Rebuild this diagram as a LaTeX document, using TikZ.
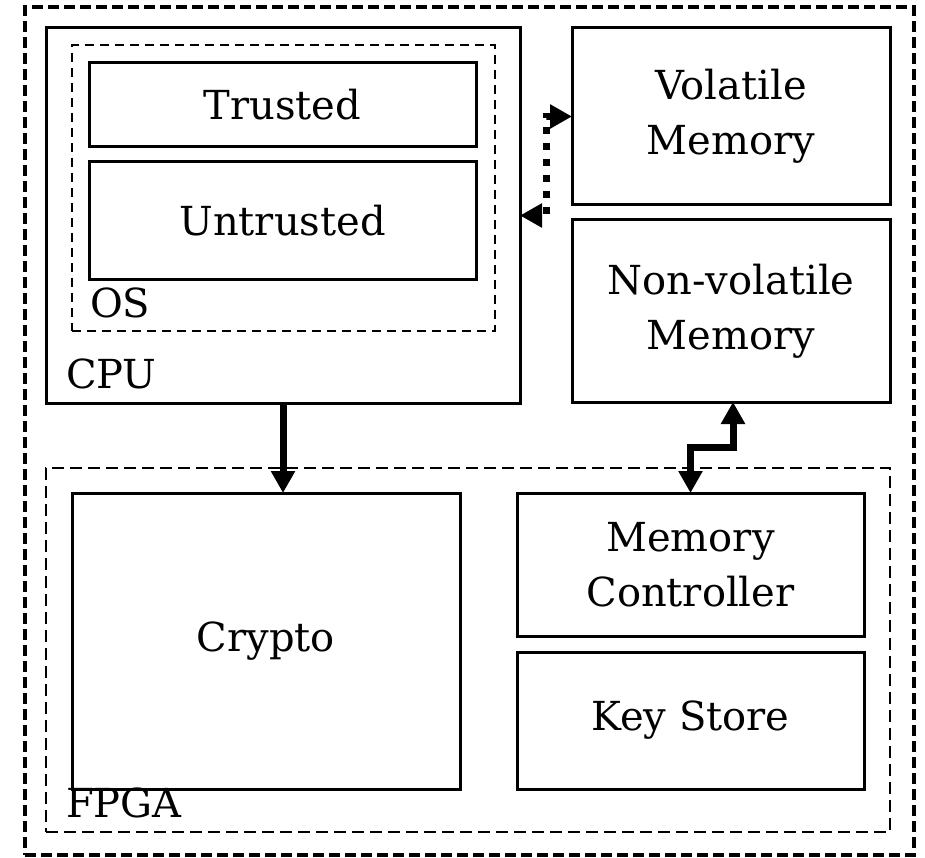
\documentclass[tikz,border=0pt]{standalone}
\usepackage{fontspec}
\setmainfont{DejaVu Serif}
\usetikzlibrary{arrows.meta,calc}
\begin{document}
\begin{tikzpicture}[x=1pt,y=-1pt,
  every node/.style={inner sep=0pt,outer sep=0pt,font=\fontsize{40}{55}\selectfont},
  solidbox/.style={draw,line width=3pt,anchor=north west,align=center},
  osbox/.style={draw,line width=2.2pt,dash pattern=on 9pt off 6pt,anchor=north west},
  fpgabox/.style={draw,line width=2.2pt,dash pattern=on 12pt off 6pt,anchor=north west},
  outerbox/.style={draw,line width=3.5pt,dash pattern=on 11pt off 5pt,anchor=north west},
  lbl/.style={anchor=base west},
  bigarrow/.style={line width=7pt,-{Triangle[length=22pt,width=23pt]}},
  biarrow/.style={line width=7pt,{Triangle[length=22pt,width=23pt]}-{Triangle[length=22pt,width=23pt]}},
  dotarrow/.style={line width=7pt,dash pattern=on 7pt off 9pt,{Triangle[length=22pt,width=23pt]}-{Triangle[length=22pt,width=23pt]}}
]
\useasboundingbox (0,0) rectangle (925,858);
\node[outerbox,minimum width=889pt,minimum height=848pt] (outer) at (25,7) {};
% CPU
\node[solidbox,minimum width=474pt,minimum height=375pt] (cpu) at (46,28) {};
\node[osbox,minimum width=423pt,minimum height=286pt] (os) at (72,45) {};
\node[solidbox,minimum width=387pt,minimum height=84pt] (trusted) at (89,63) {Trusted};
\node[solidbox,minimum width=387pt,minimum height=118pt] (untrusted) at (89,162) {Untrusted};
\node[lbl] (oslbl) at (90,317) {OS};
\node[lbl] (cpulbl) at (66,388) {CPU};
% Memories
\node[solidbox,minimum width=318pt,minimum height=177pt] (vol) at (572,28) {Volatile\\Memory};
\node[solidbox,minimum width=318pt,minimum height=182pt] (nonvol) at (572,220) {Non-volatile\\Memory};
% FPGA
\node[fpgabox,minimum width=844pt,minimum height=364pt] (fpga) at (46,468) {};
\node[solidbox,minimum width=388pt,minimum height=296pt] (crypto) at (72,493) {Crypto};
\node[solidbox,minimum width=347pt,minimum height=143pt] (memctl) at (517,493) {Memory\\Controller};
\node[solidbox,minimum width=347pt,minimum height=137pt] (keystore) at (517,652) {Key Store};
\node[lbl] (fpgalbl) at (66,817) {FPGA};
% connectors
\draw[bigarrow] (cpu.south) -- (cpu.south |- crypto.north);
\draw[biarrow] (memctl.north) -- ($(memctl.north)+(0,-46)$) -| ($(nonvol.south)+(2,0)$);
\draw[dotarrow] (vol.west) -- ++(-26,0) |- (cpu.east);
\end{tikzpicture}
\end{document}
